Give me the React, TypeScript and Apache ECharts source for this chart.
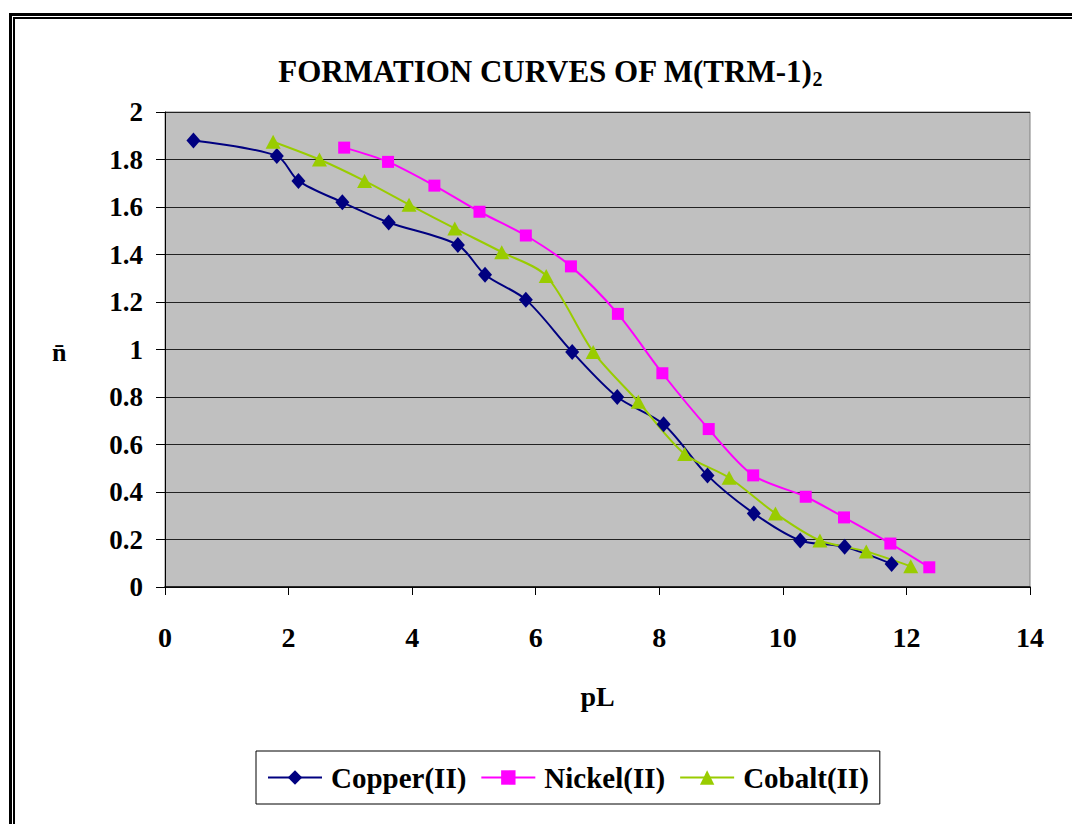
import React, { useEffect, useRef } from 'react';
import * as echarts from 'echarts';

const xTicks = [0, 2, 4, 6, 8, 10, 12, 14];
const copperPL = [0.46, 1.81, 2.16, 2.87, 3.62, 4.74, 5.18, 5.84, 6.59, 7.32, 8.07, 8.78, 9.53, 10.28, 11.0, 11.76];
const copperN = [1.88, 1.815, 1.71, 1.62, 1.535, 1.44, 1.315, 1.21, 0.99, 0.8, 0.685, 0.47, 0.31, 0.196, 0.169, 0.097];
const nickelPL = [2.9, 3.61, 4.36, 5.09, 5.84, 6.57, 7.33, 8.05, 8.8, 9.52, 10.37, 10.99, 11.74, 12.37];
const nickelN = [1.85, 1.79, 1.69, 1.58, 1.48, 1.35, 1.15, 0.9, 0.665, 0.47, 0.38, 0.293, 0.183, 0.083];
const cobaltPL = [1.75, 2.5, 3.23, 3.95, 4.69, 5.45, 6.17, 6.93, 7.66, 8.41, 9.13, 9.88, 10.6, 11.35, 12.07];
const cobaltN = [1.875, 1.8, 1.71, 1.61, 1.51, 1.41, 1.31, 0.99, 0.78, 0.56, 0.46, 0.31, 0.196, 0.15, 0.087];

const seriesNames = ['Copper(II)', 'Nickel(II)', 'Cobalt(II)'];
const FONT = '"Liberation Serif", "Times New Roman", serif';

const pairs = (xs: number[], ys: number[]) => xs.map((x, i) => [x, ys[i]]);

export default function App() {
  const ref = useRef<HTMLDivElement>(null);
  useEffect(() => {
    if (!ref.current) return;
    const chart = echarts.init(ref.current, null, { renderer: 'svg' });
    const lineSeries = (name: string, data: number[][], color: string, symbol: string, size: any) => ({
      name,
      type: 'line',
      data,
      smooth: 0.3,
      symbol,
      symbolSize: size,
      showSymbol: true,
      lineStyle: { color, width: 2 },
      itemStyle: { color, borderWidth: 0 },
    });
    chart.setOption({
      animation: false,
      backgroundColor: '#ffffff',
      textStyle: { fontFamily: FONT },
      title: {
        text: '{a|FORMATION CURVES OF M(TRM-1)}{s|2}',
        left: 545,
        top: 48,
        textAlign: 'center',
        textStyle: {
          rich: {
            a: { fontFamily: FONT, fontWeight: 'bold', fontSize: 31, color: '#000', lineHeight: 36 },
            s: { fontFamily: FONT, fontWeight: 'bold', fontSize: 20, color: '#000', verticalAlign: 'bottom', lineHeight: 36, padding: [14, 0, 0, 0] },
          },
        },
      },
      legend: {
        data: seriesNames,
        left: 256,
        top: 751,
        padding: [12, 11, 12, 11],
        itemGap: 14,
        itemWidth: 54,
        itemHeight: 18,
        borderColor: '#000',
        borderWidth: 1,
        backgroundColor: '#fff',
        textStyle: { fontFamily: FONT, fontWeight: 'bold', fontSize: 29, color: '#000', padding: [0, 0, 0, 4] },
      },
      grid: {
        left: 165,
        top: 112,
        width: 865,
        height: 475,
        show: true,
        backgroundColor: '#c0c0c0',
        borderColor: '#808080',
        borderWidth: 1,
      },
      xAxis: {
        type: 'value',
        min: xTicks[0],
        max: xTicks[xTicks.length - 1],
        interval: 2,
        name: 'pL',
        nameLocation: 'middle',
        nameGap: 95,
        nameTextStyle: { fontFamily: FONT, fontWeight: 'bold', fontSize: 28, color: '#000' },
        axisLine: { show: true, lineStyle: { color: '#000', width: 1.5 } },
        axisTick: { show: true, length: 8, lineStyle: { color: '#000' } },
        splitLine: { show: false },
        axisLabel: { margin: 36, fontFamily: FONT, fontWeight: 'bold', fontSize: 28, color: '#000' },
      },
      yAxis: {
        type: 'value',
        min: 0,
        max: 2,
        interval: 0.2,
        axisLine: { show: true, lineStyle: { color: '#000' } },
        axisTick: { show: true, length: 9, lineStyle: { color: '#000' } },
        splitLine: { show: true, lineStyle: { color: '#222', width: 1 } },
        axisLabel: { margin: 22, fontFamily: FONT, fontWeight: 'bold', fontSize: 27, color: '#000' },
      },
      graphic: [
        { type: 'rect', shape: { x: 9, y: 13, width: 3, height: 900 }, style: { fill: '#000' } },
        { type: 'rect', shape: { x: 9, y: 13, width: 1100, height: 3 }, style: { fill: '#000' } },
        { type: 'rect', shape: { x: 13, y: 17, width: 2, height: 900 }, style: { fill: '#000' } },
        { type: 'rect', shape: { x: 13, y: 17, width: 1100, height: 2 }, style: { fill: '#000' } },
        {
          type: 'text',
          x: 52,
          y: 352,
          style: { text: 'n̄', font: 'bold 26px ' + FONT, fill: '#000', textVerticalAlign: 'middle' },
        },
      ],
      series: [
        lineSeries(seriesNames[0], pairs(copperPL, copperN), '#000080', 'diamond', [14, 16]),
        lineSeries(seriesNames[1], pairs(nickelPL, nickelN), '#ff00ff', 'rect', 12),
        lineSeries(seriesNames[2], pairs(cobaltPL, cobaltN), '#99cc00', 'triangle', [15, 14]),
      ],
    });
    return () => chart.dispose();
  }, []);
  return <div ref={ref} style={{ position: 'absolute', left: 0, top: 0, width: 1072, height: 824 }} />;
}
